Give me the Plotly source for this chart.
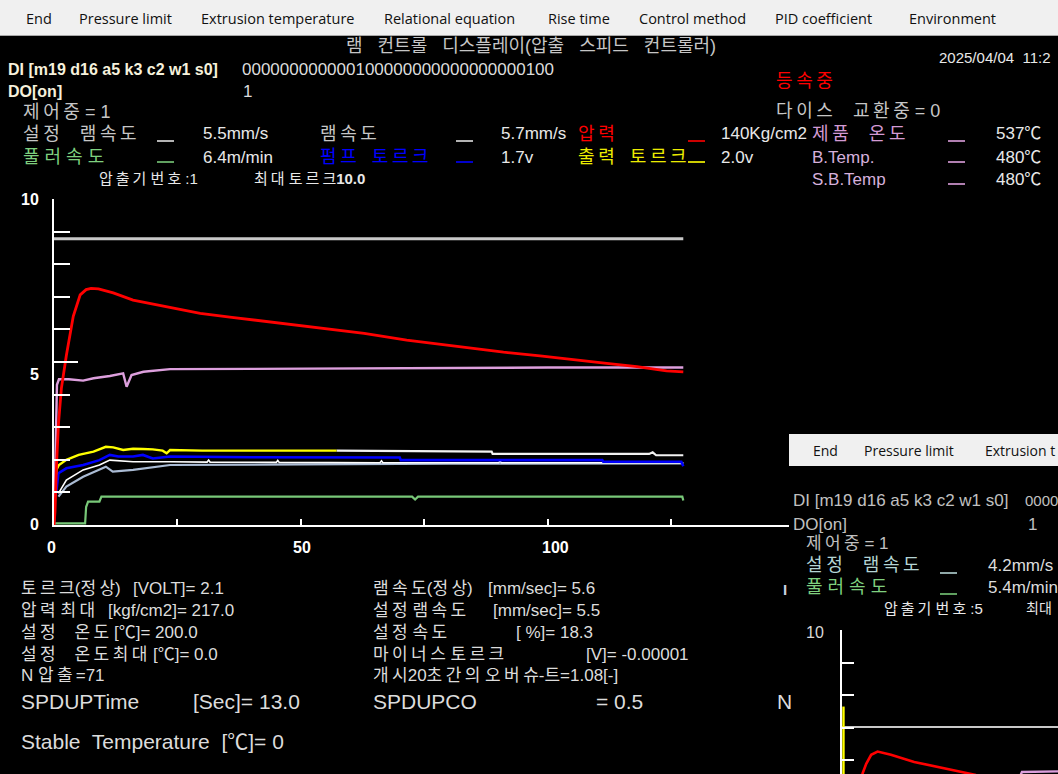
import plotly.graph_objects as go

W, H = 1058, 774

# ---------------- extruder 1 trend (time [s] vs. scaled value 0-10) ----------------
set_t = [0.0, 127.4]
set_v = [8.78, 8.78]

pressure_t = [0.0, 0.2, 0.5, 0.9, 1.5, 2.5, 3.9, 5.3, 6.5, 7.5, 9.0, 12.0, 16.0, 22.8, 29.6,
              36.0, 43.0, 50.0, 56.5, 62.8, 71.4, 78.0, 84.9, 91.0, 98.4, 105.0, 111.9, 118.0, 124.0, 127.4]
pressure_v = [0.0, 0.4, 1.8, 3.1, 4.2, 5.2, 6.4, 7.06, 7.22, 7.26, 7.24, 7.12, 6.90, 6.70, 6.49,
              6.37, 6.24, 6.11, 5.98, 5.88, 5.67, 5.55, 5.42, 5.30, 5.19, 5.07, 4.96, 4.86, 4.73, 4.70]

product_temp_t = [0.0, 0.3, 0.6, 1.0, 3.0, 5.9, 8.0, 11.3, 14.0, 14.7, 15.2, 15.7, 18.1, 23.5,
                  40.0, 60.0, 80.0, 100.0, 127.4]
product_temp_v = [0.0, 2.0, 4.3, 4.47, 4.47, 4.43, 4.50, 4.57, 4.65, 4.24, 4.40, 4.60, 4.70, 4.78,
                  4.79, 4.81, 4.82, 4.83, 4.83]

out_torque_t = [0.2, 0.5, 1.0, 2.5, 5.0, 8.0, 10.5, 12.0, 14.0, 16.0, 18.0, 20.0, 22.0, 22.8, 23.5,
                30.0, 40.0, 57.2]
out_torque_v = [1.28, 1.70, 1.84, 2.00, 2.15, 2.25, 2.40, 2.38, 2.30, 2.34, 2.33, 2.32, 2.28, 2.20, 2.30,
                2.28, 2.28, 2.28]

ram_speed_t = [57.2, 70.0, 88.6, 88.8, 120.5, 121.2, 121.9, 127.4]
ram_speed_v = [2.28, 2.26, 2.25, 2.18, 2.18, 2.23, 2.14, 2.14]

pump_torque_t = [0.3, 0.5, 0.9, 2.5, 5.9, 9.2, 11.3, 13.0, 16.0, 18.0, 20.0, 23.5, 40.0, 57.9,
                 70.0, 70.2, 111.0, 111.2, 127.0, 127.4]
pump_torque_v = [0.90, 1.07, 1.59, 1.74, 1.84, 1.99, 2.15, 2.10, 2.10, 2.15, 2.04, 2.10, 2.08, 2.07,
                 2.07, 1.99, 1.99, 1.94, 1.94, 1.80]

set_ram_t = [0.9, 2.5, 5.9, 9.2, 10.5, 11.9, 16.0, 23.5, 40.0, 60.0, 80.0, 100.0, 127.4]
set_ram_v = [0.87, 1.18, 1.48, 1.69, 1.79, 1.64, 1.69, 1.84, 1.86, 1.87, 1.88, 1.89, 1.89]

ram_raw_t = [0.9, 2.5, 5.9, 9.2, 11.3, 16.0, 23.5, 31.0, 31.3, 31.6, 45.0, 45.3, 45.6,
             66.0, 66.3, 66.6, 90.0, 90.3, 90.6, 127.4]
ram_raw_v = [0.97, 1.38, 1.69, 1.84, 1.99, 1.94, 1.94, 1.93, 1.99, 1.93, 1.92, 1.98, 1.92,
             1.91, 1.97, 1.91, 1.91, 1.96, 1.91, 1.91]

puller_t = [0.0, 6.3, 6.5, 6.9, 9.2, 9.6, 72.5, 73.1, 73.7, 127.2, 127.4]
puller_v = [0.05, 0.05, 0.55, 0.72, 0.72, 0.87, 0.87, 0.78, 0.87, 0.87, 0.75]

# ---------------- extruder 5 trend (second window) ----------------
ov_set_t = [0.0, 44.0]
ov_set_v = [7.02, 7.02]
ov_torque_t = [0.3, 0.3]
ov_torque_v = [5.5, 7.65]
ov_pressure_t = [4.0, 4.2, 4.9, 5.9, 7.2, 9.9, 14.6, 20.0, 24.1, 27.1]
ov_pressure_v = [5.5, 5.61, 5.89, 6.17, 6.27, 6.17, 5.95, 5.77, 5.64, 5.55]
ov_temp_t = [36.0, 36.4, 44.0]
ov_temp_v = [5.5, 5.64, 5.66]

# axis tick labels
y_tick_labels = ["0", "5", "10"]
x_tick_labels = ["0", "50", "100"]

# ---------------- colours / fonts ----------------
RED = "#ff0000"
PLUM = "#dd9fdd"
YELLOW = "#ffff00"
BLUE = "#0000ff"
GREEN = "#78c878"
STEEL = "#aabbd4"
WHITE = "#ffffff"
GRAY_LINE = "#c8c8c8"
TXT = "#e8e8e8"
KTXT = "#c6c6c6"
LAT = "Liberation Sans, Noto Sans CJK KR, sans-serif"
MENU = "Open Sans, Noto Sans, sans-serif"

fig = go.Figure()


def line(t, v, color, width=2.0, xa="x", ya="y"):
    fig.add_trace(go.Scatter(x=t, y=v, mode="lines", xaxis=xa, yaxis=ya,
                             line=dict(color=color, width=width),
                             hoverinfo="skip", showlegend=False))


# main trend
line(set_t, set_v, GRAY_LINE, 3)
line(puller_t, puller_v, GREEN, 2.2)
line(set_ram_t, set_ram_v, STEEL, 2.2)
line(ram_raw_t, ram_raw_v, WHITE, 1.6)
line(pump_torque_t, pump_torque_v, BLUE, 2.6)
line(ram_speed_t, ram_speed_v, "#f2f2f2", 2.2)
line(out_torque_t, out_torque_v, YELLOW, 2.4)
line(product_temp_t, product_temp_v, PLUM, 2.4)
line(pressure_t, pressure_v, RED, 2.8)

# second window trend
line(ov_set_t, ov_set_v, GRAY_LINE, 2, "x2", "y2")
line(ov_torque_t, ov_torque_v, YELLOW, 2.4, "x2", "y2")
line(ov_temp_t, ov_temp_v, PLUM, 2.4, "x2", "y2")
line(ov_pressure_t, ov_pressure_v, RED, 2.6, "x2", "y2")


def is_hangul(ch):
    return "\uac00" <= ch <= "\ud7a3"


def spaced(s, gap="\u2009"):
    """Open up Hangul runs a little, like the fixed-pitch panel font."""
    out = []
    for i, ch in enumerate(s):
        out.append(ch)
        if i + 1 < len(s) and is_hangul(ch) and is_hangul(s[i + 1]):
            out.append(gap)
    return "".join(out)


def txt(x, y, s, color=TXT, size=17, family=LAT, bold=False, anchor="left"):
    fig.add_annotation(x=x / W, y=1 - y / H, xref="paper", yref="paper",
                       text=("<b>%s</b>" % s) if bold else s, showarrow=False,
                       xanchor=anchor, yanchor="middle", borderpad=0,
                       font=dict(color=color, size=size, family=family))


def rect(x0, y0, x1, y1, fill, line_color=None):
    fig.add_shape(type="rect", xref="paper", yref="paper",
                  x0=x0 / W, x1=x1 / W, y0=1 - y1 / H, y1=1 - y0 / H,
                  fillcolor=fill, line=dict(width=1 if line_color else 0,
                                            color=line_color or fill), layer="above")


def seg(x0, x1, y, color, width=2):
    fig.add_shape(type="line", xref="paper", yref="paper",
                  x0=x0 / W, x1=x1 / W, y0=1 - y / H, y1=1 - y / H,
                  line=dict(color=color, width=width), layer="above")


# ---------------- menu bars ----------------
rect(0, 0, W, 35, "#f0f0f0")
seg(0, W, 35.5, "#a8a8a8", 1)
menu = [("End", 25), ("Pressure limit", 78), ("Extrusion temperature", 200),
        ("Relational equation", 383), ("Rise time", 547), ("Control method", 638),
        ("PID coefficient", 774), ("Environment", 908)]
for label, mx in menu:
    txt(mx, 18, label, "#111111", 14.5, MENU)

rect(789, 434, W + 2, 466, "#f0f0f0")
for label, mx in [("End", 812), ("Pressure limit", 863), ("Extrusion t", 984)]:
    txt(mx, 450, label, "#111111", 14, MENU)

# ---------------- header ----------------
txt(531, 46, "램   컨트롤   디스플레이(압출   스피드   컨트롤러)", KTXT, 18, anchor="center")
txt(938, 57, "2025/04/04  11:2", TXT, 15)
txt(7, 69, "DI [m19 d16 a5 k3 c2 w1 s0]", "#f6f1dc", 16, bold=True)
txt(241, 69, "000000000000100000000000000000100", "#dcdcdc", 17)
txt(7, 91, "DO[on]", "#f6f1dc", 16, bold=True)
txt(242, 91, "1", "#dcdcdc", 17)
txt(775, 81, spaced("등속중"), RED, 18)
txt(22, 112, spaced("제어중") + " = 1", KTXT, 18)
txt(775, 111, spaced("다이스") + "    " + spaced("교환중") + " = 0", KTXT, 18)

# row: set ram speed / ram speed / pressure / product temperature
txt(22, 134, spaced("설정") + "    " + spaced("램속도"), KTXT, 18)
txt(202, 134, "5.5mm/s")
txt(319, 134, spaced("램속도"), KTXT, 18)
txt(500, 134, "5.7mm/s")
txt(577, 134, spaced("압력"), RED, 18)
txt(720, 134, "140Kg/cm2")
txt(811, 134, spaced("제품") + "    " + spaced("온도"), "#d49ad4", 18)
txt(995, 134, "537℃")

# row: puller / pump torque / output torque / B.Temp
txt(22, 157, spaced("풀러속도", " "), "#7fd07f", 18)
txt(202, 157, "6.4m/min")
txt(319, 157, spaced("펌프") + "   " + spaced("토르크"), BLUE, 18)
txt(500, 157, "1.7v")
txt(577, 157, spaced("출력") + "   " + spaced("토르크"), "#ecec00", 18)
txt(720, 157, "2.0v")
txt(811, 157, "B.Temp.", "#d6b0dc", 17)
txt(995, 157, "480℃")

txt(98, 178, spaced("압출기") + " " + spaced("번호") + " :1", TXT, 15)
txt(253, 178, spaced("최대") + " " + spaced("토르크") + "<b>10.0</b>", TXT, 15)
txt(811, 179, "S.B.Temp", "#d6b0dc", 17)
txt(995, 179, "480℃")

# legend line samples
for x0, y, c in [(157, 141, "#e0e0e0"), (456, 141, "#e0e0e0"), (688, 141, RED), (948, 141, PLUM),
                 (157, 162, GREEN), (456, 162, BLUE), (688, 162, YELLOW), (948, 162, PLUM),
                 (948, 184, PLUM)]:
    seg(x0, x0 + 17, y, c, 1.6)

# ---------------- axis tick labels (main trend) ----------------
for lab, yy in zip(y_tick_labels, [524, 374, 200]):
    txt(40, yy, lab, WHITE, 16, bold=True, anchor="right")
for lab, xx in zip(x_tick_labels, [51, 302, 555]):
    txt(xx, 547, lab, WHITE, 16, bold=True, anchor="center")

# ---------------- summary block ----------------
BT = "#dcdcdc"
rows1 = [(588, "토르크(정상)", "[VOLT]= 2.1", 132),
         (610, "압력 최대", "[kgf/cm2]= 217.0", 107),
         (632, "설정    온도", "[℃]= 200.0", 113),
         (654, "설정    온도최대", "[℃]= 0.0", 152),
         (675, "N 압출", " =71", 70)]
for yy, ko, val, vx in rows1:
    txt(20, yy, spaced(ko), BT, 17)
    txt(vx, yy, val, BT, 17)
txt(20, 701, "SPDUPTime", BT, 21)
txt(192, 701, "[Sec]= 13.0", BT, 21)
txt(20, 741, "Stable  Temperature  [℃]= 0", BT, 21)

rows2 = [(588, "램속도(정상)", "[mm/sec]= 5.6", 487),
         (610, "설정 램속도", "[mm/sec]= 5.5", 492),
         (632, "설정 속도", "[ %]= 18.3", 515),
         (654, "마이너스 토르크", "[V]= -0.00001", 585)]
for yy, ko, val, vx in rows2:
    txt(372, yy, spaced(ko), BT, 17)
    txt(vx, yy, val, BT, 17)
txt(372, 675, spaced("개시20초간의 오버슈-트") + "=1.08[-]", BT, 17)
txt(372, 701, "SPDUPCO", BT, 21)
txt(595, 701, "= 0.5", BT, 21)
txt(782, 589, "I", "#c8d0e0", 15, bold=True)
txt(776, 701, "N", BT, 21)

# ---------------- second window header ----------------
OVG = "#c0c0c0"
txt(792, 500, "DI [m19 d16 a5 k3 c2 w1 s0]", OVG, 17)
txt(1024, 500, "0000", OVG, 15)
txt(792, 524, "DO[on]", OVG, 17)
txt(1027, 524, "1", OVG, 17)
txt(805, 543, spaced("제어중") + " = 1", OVG, 17)
txt(805, 565, spaced("설정") + "    " + spaced("램속도"), "#b4d4d4", 18)
txt(987, 565, "4.2mm/s", "#dcdcdc", 17)
txt(805, 587, spaced("풀러속도", " "), "#7fd07f", 18)
txt(987, 587, "5.4m/min", "#dcdcdc", 17)
txt(883, 608, spaced("압출기") + " " + spaced("번호") + " :5", TXT, 15)
txt(1025, 608, "최대", TXT, 14)
txt(805, 632, "10", "#d8d8d8", 16)
seg(940, 957, 573, "#b4d4d4", 1.6)
seg(940, 957, 594, GREEN, 1.6)

# ---------------- axes ----------------
fig.update_layout(
    width=W, height=H, margin=dict(l=0, r=0, t=0, b=0),
    paper_bgcolor="#000000", plot_bgcolor="#000000", showlegend=False,
    xaxis=dict(domain=[54 / W, 789 / W], range=[0, 148.8], showgrid=False, zeroline=False,
               showline=True, linecolor=WHITE, linewidth=2, showticklabels=False,
               ticks="inside", tickmode="array", tickvals=[25, 50, 75, 100, 125],
               ticklen=6, tickwidth=2, tickcolor=WHITE, fixedrange=True),
    yaxis=dict(domain=[1 - 525 / H, 1 - 199 / H], range=[0, 10], showgrid=False, zeroline=False,
               showline=True, linecolor=WHITE, linewidth=2, showticklabels=False,
               ticks="inside", tickmode="array", tickvals=[5], ticklen=24, tickwidth=2,
               tickcolor=WHITE, fixedrange=True,
               minor=dict(tickmode="array", tickvals=[1, 2, 3, 4, 6, 7, 8, 9, 10],
                          ticks="inside", ticklen=16, tickwidth=2, tickcolor=WHITE)),
    xaxis2=dict(domain=[842 / W, 1.0], range=[0, 43.7], anchor="y2", visible=False,
                fixedrange=True),
    yaxis2=dict(domain=[0.0, 1 - 630 / H], range=[5.58, 10], anchor="x2", showgrid=False,
                zeroline=False, showline=True, linecolor=WHITE, linewidth=2,
                showticklabels=False, ticks="inside", tickmode="array",
                tickvals=[6, 7, 8, 9, 10], ticklen=12, tickwidth=2, tickcolor=WHITE,
                fixedrange=True),
)

fig.write_html("out.html", config={"displayModeBar": False})
